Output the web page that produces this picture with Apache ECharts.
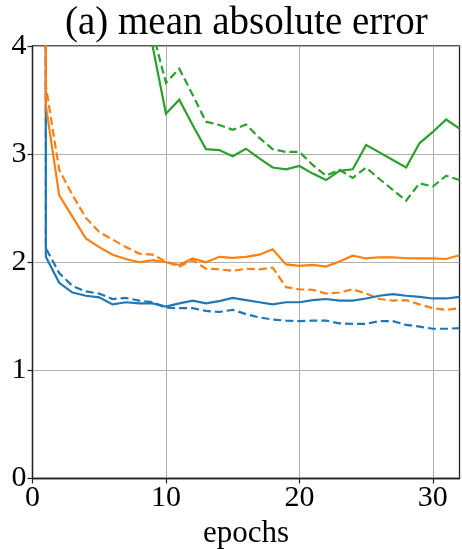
<!DOCTYPE html>
<html>
<head>
<meta charset="utf-8">
<script src="https://cdn.jsdelivr.net/npm/echarts@6/dist/echarts.min.js"></script>
<style>
html,body{margin:0;padding:0;background:#fff;}
#c{width:462px;height:549px;}
</style>
</head>
<body>
<div id="c"></div>
<script>
const titleText = '(a) mean absolute error';
const xName = 'epochs';
const xTicks = [0, 10, 20, 30];
const yTicks = [0, 1, 2, 3, 4];
const epochs = [1,2,3,4,5,6,7,8,9,10,11,12,13,14,15,16,17,18,19,20,21,22,23,24,25,26,27,28,29,30,31,32];
// value at the very first logged step (off the top of the chart)
const epoch1Peak = [9, 9, 9, 9];
const blueSolid = [2.05,1.81,1.72,1.69,1.675,1.61,1.63,1.62,1.62,1.59,1.62,1.645,1.62,1.64,1.67,1.65,1.63,1.61,1.63,1.63,1.65,1.66,1.645,1.645,1.665,1.69,1.705,1.69,1.68,1.665,1.665,1.68];
const blueDashed = [2.13,1.90,1.78,1.73,1.71,1.66,1.67,1.645,1.63,1.58,1.575,1.575,1.55,1.54,1.56,1.52,1.49,1.47,1.46,1.456,1.46,1.46,1.435,1.43,1.43,1.456,1.456,1.42,1.405,1.385,1.385,1.39];
const orangeSolid = [3.45,2.62,2.42,2.22,2.14,2.07,2.03,2.00,2.02,2.00,1.975,2.035,2.00,2.05,2.04,2.05,2.07,2.12,1.98,1.966,1.975,1.96,2.006,2.06,2.035,2.046,2.046,2.037,2.035,2.035,2.03,2.065];
const orangeDashed = [3.63,2.855,2.62,2.41,2.28,2.21,2.14,2.08,2.07,2.006,1.96,2.02,1.94,1.935,1.92,1.94,1.935,1.95,1.77,1.75,1.745,1.71,1.72,1.75,1.71,1.66,1.645,1.65,1.61,1.575,1.56,1.575];
const greenSolid = [null,null,null,null,null,null,null,5.5,4.0,3.373,3.503,3.27,3.046,3.037,2.98,3.05,2.96,2.876,2.86,2.89,2.82,2.76,2.845,2.86,3.085,3.016,2.946,2.876,3.10,3.205,3.32,3.235];
const greenDashed = [null,null,null,null,null,null,null,5.8,4.13,3.66,3.79,3.55,3.30,3.27,3.225,3.274,3.15,3.046,3.02,3.02,2.90,2.80,2.855,2.78,2.876,2.77,2.67,2.57,2.73,2.70,2.80,2.76];

const colors = {blue:'#1f77b4', orange:'#ff7f0e', green:'#2ca02c'};
const serif = "'Liberation Serif','DejaVu Serif','Times New Roman',serif";

function pairs(vals, peak){
  const d = [];
  if (peak != null) d.push([1, peak]);
  vals.forEach((v,i)=>{ if (v != null) d.push([epochs[i], v]); });
  return d;
}
function mk(name, vals, peak, color, dashed){
  return {
    name, type:'line', data:pairs(vals, peak), showSymbol:false, symbol:'none',
    clip:true, animation:false, z: dashed ? 3 : 4,
    lineStyle:{color, width:2.2, type: dashed ? [8,4] : 'solid', cap:'butt', join:'miter'}
  };
}

const chart = echarts.init(document.getElementById('c'), null, {renderer:'canvas'});
chart.setOption({
  backgroundColor:'#fff',
  animation:false,
  title:{
    text:titleText, left:65, top:4, padding:0,
    textStyle:{fontFamily:serif, fontSize:39, fontWeight:'normal', color:'#000'}
  },
  grid:{left:32.5, right:2.5, top:46, bottom:70.5, show:true, outerBoundsMode:'none', containLabel:false,
        borderColor:'#222', borderWidth:1.3, backgroundColor:'transparent'},
  xAxis:{
    type:'value', min:0, max:32, interval:10,
    name:xName, nameLocation:'middle', nameGap:36,
    nameTextStyle:{fontFamily:serif, fontSize:31, color:'#000'},
    axisLine:{show:true, onZero:false, lineStyle:{color:'#222', width:1.3}},
    axisTick:{show:true, inside:false, length:5, customValues:xTicks, lineStyle:{color:'#222', width:1.2}},
    axisLabel:{customValues:xTicks, fontFamily:serif, fontSize:30, color:'#000', margin:5},
    splitLine:{show:true, lineStyle:{color:'#b0b0b0', width:1}}
  },
  yAxis:{
    type:'value', min:0, max:4, interval:1,
    axisLine:{show:true, onZero:false, lineStyle:{color:'#222', width:1.3}},
    axisTick:{show:true, inside:false, length:5, lineStyle:{color:'#222', width:1.2}},
    axisLabel:{fontFamily:serif, fontSize:30, color:'#000', margin:6},
    splitLine:{show:true, lineStyle:{color:'#b0b0b0', width:1}}
  },
  series:[
    mk('blue dashed', blueDashed, epoch1Peak[1], colors.blue, true),
    mk('blue solid', blueSolid, epoch1Peak[0], colors.blue, false),
    mk('orange dashed', orangeDashed, epoch1Peak[3], colors.orange, true),
    mk('orange solid', orangeSolid, epoch1Peak[2], colors.orange, false),
    mk('green dashed', greenDashed, null, colors.green, true),
    mk('green solid', greenSolid, null, colors.green, false)
  ]
});
</script>
</body>
</html>
